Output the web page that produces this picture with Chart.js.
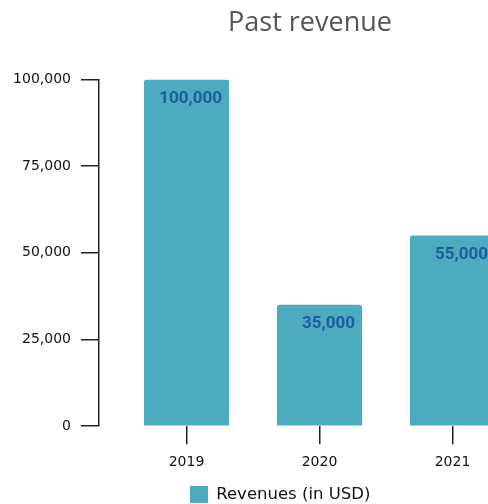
<!DOCTYPE html>
<html>
<head>
<meta charset="utf-8">
<script src="https://cdn.jsdelivr.net/npm/chart.js@4"></script>
<style>
html,body{margin:0;padding:0;background:#fff;overflow:hidden;}
#wrap{position:relative;width:620px;height:513px;}
</style>
</head>
<body>
<div id="wrap"><canvas id="c" width="620" height="513"></canvas></div>
<script>
const categories = ['2019', '2020', '2021'];
const revenues = [100000, 35000, 55000];
const seriesName = 'Revenues (in USD)';
const chartTitle = 'Past revenue';
const yTicks = [0, 25000, 50000, 75000, 100000];

const barColor = '#4cabbf';
const fmt = v => v.toLocaleString('en-US');

const valueLabels = {
  id: 'valueLabels',
  afterDatasetsDraw(chart) {
    const ctx = chart.ctx;
    const meta = chart.getDatasetMeta(0);
    ctx.save();
    ctx.font = 'bold 17px Roboto';
    ctx.fillStyle = '#1d5f9c';
    ctx.textAlign = 'right';
    ctx.textBaseline = 'middle';
    meta.data.forEach((bar, i) => {
      const right = bar.x + bar.width / 2;
      ctx.fillText(fmt(chart.data.datasets[0].data[i]), right - 7, bar.y + 19);
    });
    ctx.restore();
  }
};

const shiftLegend = {
  id: 'shiftLegend',
  afterLayout(chart) {
    const lg = chart.legend;
    const w = lg.right - lg.left;
    lg.left = 190 - lg.options.labels.padding;
    lg.right = lg.left + w;
  }
};

Chart.defaults.font.family = "'DejaVu Sans'";
Chart.defaults.color = '#111';

new Chart(document.getElementById('c'), {
  type: 'bar',
  data: {
    labels: categories,
    datasets: [{
      label: seriesName,
      data: revenues,
      backgroundColor: barColor,
      borderRadius: {topLeft: 3, topRight: 3},
      borderSkipped: 'start',
      barPercentage: 0.8,
      categoryPercentage: 0.8,
      yAxisID: 'y'
    }]
  },
  options: {
    responsive: false,
    animation: false,
    layout: {padding: 0},
    plugins: {
      title: {
        display: true,
        text: chartTitle,
        color: '#555',
        font: {family: "'Open Sans'", size: 27, weight: 'normal'},
        padding: {top: 7, bottom: 40}
      },
      legend: {
        position: 'bottom',
        align: 'start',
        labels: {
          boxWidth: 18,
          boxHeight: 17,
          padding: 5,
          color: '#111',
          font: {size: 16.5}
        }
      },
      tooltip: {enabled: false}
    },
    scales: {
      x: {
        grid: {display: true, drawOnChartArea: false, offset: false, tickLength: 18, color: '#222', lineWidth: 1.5},
        border: {display: false},
        ticks: {padding: 10, font: {size: 14}, color: '#111'}
      },
      y: {
        position: 'left',
        weight: 1,
        min: 0,
        max: 100000,
        afterBuildTicks(scale) { scale.ticks = yTicks.map(v => ({value: v})); },
        afterFit(scale) { scale.width = 99; },
        grid: {display: true, drawOnChartArea: false, tickLength: 18, color: '#222', lineWidth: 1.5},
        border: {display: true, color: '#222', width: 1.5},
        ticks: {padding: 10, font: {size: 14}, color: '#111', callback: v => fmt(v)}
      },
      y2: {
        type: 'linear',
        position: 'left',
        weight: 0,
        display: true,
        afterFit(scale) { scale.width = 21; },
        grid: {display: false},
        border: {display: false},
        ticks: {display: false}
      },
      y3: {
        type: 'linear',
        position: 'right',
        display: true,
        afterFit(scale) { scale.width = 101; },
        grid: {display: false},
        border: {display: false},
        ticks: {display: false}
      }
    }
  },
  plugins: [valueLabels, shiftLegend]
});
</script>
</body>
</html>
